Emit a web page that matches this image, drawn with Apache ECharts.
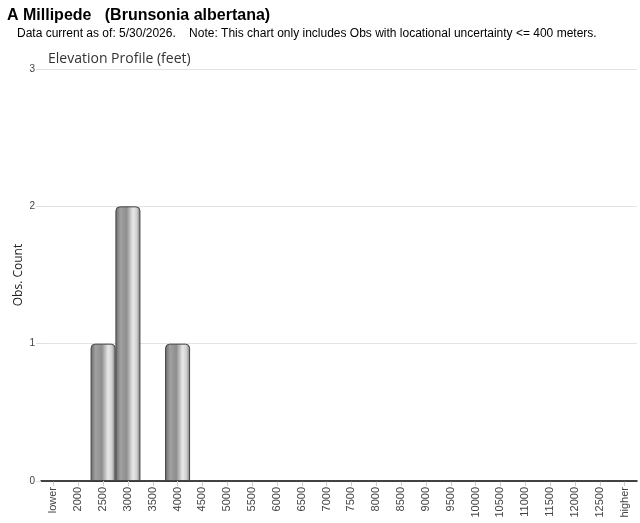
<!DOCTYPE html>
<html><head><meta charset="utf-8">
<script src="https://cdn.jsdelivr.net/npm/echarts@6/dist/echarts.min.js"></script>
<style>html,body{margin:0;padding:0;background:#fff}#c{width:640px;height:523px}</style>
</head><body><div id="c"></div>
<script>
var categories = ['lower','2000','2500','3000','3500','4000','4500','5000','5500','6000','6500','7000','7500','8000','8500','9000','9500','10000','10500','11000','11500','12000','12500','higher'];
var counts = [0,0,1,2,0,1,0,0,0,0,0,0,0,0,0,0,0,0,0,0,0,0,0,0];
var yTicks = [0,1,2,3];
var yAxisName = 'Obs. Count';

var chart = echarts.init(document.getElementById('c'));
chart.setOption({
  animation: false,
  title: [
    {text: 'A Millipede   (Brunsonia albertana)', left: 2, top: 3,
     textStyle: {fontFamily: 'Liberation Sans, Arial', fontWeight: 'bold', fontSize: 16, color: '#000'}},
    {text: 'Data current as of: 5/30/2026.    Note: This chart only includes Obs with locational uncertainty <= 400 meters.', left: 12, top: 23,
     textStyle: {fontFamily: 'Liberation Sans, Arial', fontWeight: 'normal', fontSize: 12, color: '#000'}},
    {text: 'Elevation Profile (feet)', left: 43, top: 47,
     textStyle: {fontFamily: 'Open Sans, Noto Sans', fontWeight: 'normal', fontSize: 14, color: '#333'}}
  ],
  graphic: [{
    type: 'text', x: 19, y: 275, rotation: Math.PI / 2,
    style: {text: yAxisName, fontSize: 12, fill: '#222', fontFamily: 'Open Sans, Noto Sans',
            align: 'center', verticalAlign: 'middle'}
  }],
  grid: {left: 41, right: 3, top: 69, bottom: 42},
  xAxis: {
    type: 'category', data: categories,
    axisLine: {lineStyle: {color: '#000', width: 1.5}},
    axisTick: {show: true, alignWithLabel: true, length: 5, lineStyle: {color: '#ccc'}},
    axisLabel: {rotate: 90, fontSize: 11, color: '#444', fontFamily: 'Liberation Sans, Arial', margin: 6}
  },
  yAxis: {
    type: 'value', min: 0, max: 3, interval: 1,
    axisLine: {show: false},
    axisTick: {show: true, length: 5, lineStyle: {color: '#e0e0e0'}},
    axisLabel: {fontSize: 10, color: '#444', margin: 6, fontFamily: 'Liberation Sans, Arial'},
    splitLine: {lineStyle: {color: '#e3e3e3'}}
  },
  series: [{
    type: 'bar', data: counts, barWidth: 25,
    itemStyle: {
      borderColor: '#444', borderWidth: 1, borderRadius: [4,4,0,0],
      color: new echarts.graphic.LinearGradient(0,0,1,0,[
        {offset: 0, color: '#6a6a6a'},
        {offset: 0.2, color: '#a0a0a0'},
        {offset: 0.45, color: '#8e8e8e'},
        {offset: 0.7, color: '#e8e8e8'},
        {offset: 0.85, color: '#d0d0d0'},
        {offset: 1, color: '#7a7a7a'}
      ])
    }
  }]
});
</script></body></html>
